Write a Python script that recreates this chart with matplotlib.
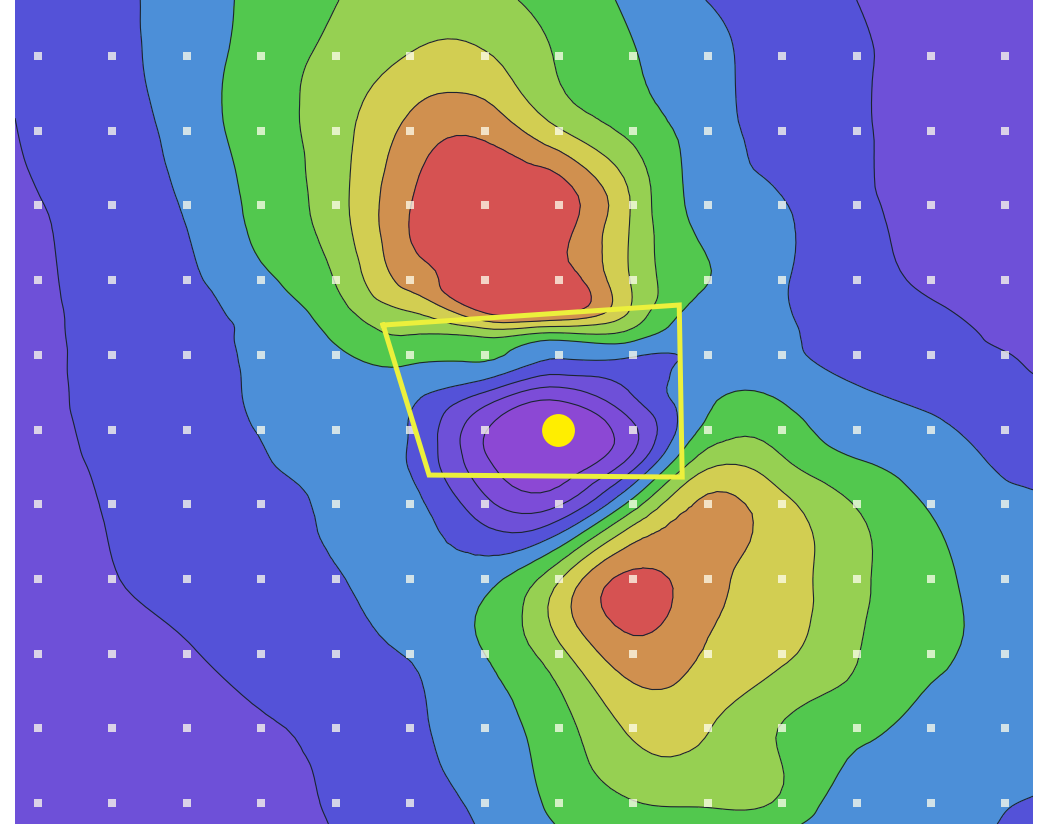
import numpy as np
import matplotlib
matplotlib.use("Agg")
import matplotlib.pyplot as plt
import matplotlib.tri as mtri
from matplotlib.colors import ListedColormap, BoundaryNorm

# grid node positions (in sample-grid units; sample dots sit on integer nodes)
x_nodes = [-0.31, 0, 1, 2, 3, 4, 5, 6, 7, 8, 9, 10, 11, 12, 13, 13.37]
y_nodes = [-0.75, 0, 1, 2, 3, 3.45, 3.75, 4, 4.5, 5, 5.5, 6, 7, 8, 9, 10, 10.28]

# field values, one list per grid row (top to bottom)
row_top = [-0.7, -0.5, -0.2, 0.5, 1.25, 1.97, 2.5, 2.3, 1.6, 0.8, -0.02, -0.5, -1.0, -1.4, -1.6, -1.7]
row_0 = [-0.85, -0.7, -0.25, 0.5, 1.4, 2.3, 3.05, 3.1, 1.9, 1.05, 0.3, -0.45, -0.9, -1.3, -1.6, -1.7]
row_1 = [-1.02, -0.85, -0.4, 0.4, 1.5, 2.6, 4.3, 4.75, 3.1, 1.7, 0.45, -0.4, -0.9, -1.35, -1.6, -1.7]
row_2 = [-1.2, -1.05, -0.52, 0.1, 1.3, 2.6, 4.98, 5.8, 5.6, 2.85, 0.6, 0.05, -0.8, -1.2, -1.5, -1.6]
row_3 = [-1.35, -1.2, -0.55, -0.2, 0.8, 2.05, 4.4, 5.8, 5.7, 2.85, 1.02, 0.1, -0.7, -1.1, -1.4, -1.5]
row_3a = [-1.4, -1.25, -0.56, -0.25, 0.3, 1.55, 2.9, 4.9, 4.95, 2.7, 0.6, 0.1, -0.55, -0.9, -1.2, -1.3]
row_3b = [-1.43, -1.28, -0.57, -0.28, 0.2, 1.15, 1.95, 2.1, 1.5, 1.4, 0.3, 0.15, -0.45, -0.8, -1.1, -1.2]
row_4 = [-1.45, -1.3, -0.58, -0.3, 0.15, 0.8, 1.35, 1.2, 0.15, 0.1, 0.2, 0.2, -0.35, -0.75, -0.98, -1.1]
row_4a = [-1.5, -1.32, -0.62, -0.32, 0.1, 0.4, 0.3, -1.0, -2.4, -0.9, 0.8, 0.8, 0.1, -0.3, -0.8, -0.9]
row_5 = [-1.55, -1.35, -0.7, -0.36, 0.03, 0.35, -0.05, -2.9, -4.0, -2.2, 1.3, 1.5, 0.5, 0.15, -0.4, -0.6]
row_5a = [-1.6, -1.45, -0.8, -0.45, -0.07, 0.3, -0.05, -2.7, -3.6, -1.2, 2.9, 2.3, 1.2, 0.5, -0.1, -0.3]
row_6 = [-1.7, -1.55, -0.9, -0.55, -0.2, 0.2, 0.3, -1.7, -2.1, 1.5, 4.2, 3.3, 1.95, 0.9, 0.2, 0.15]
row_7 = [-1.75, -1.6, -1.05, -0.6, -0.3, -0.05, 0.3, 0.65, 2.9, 5.25, 4.35, 3.5, 2.2, 1.3, 0.5, 0.4]
row_8 = [-1.8, -1.7, -1.5, -1.1, -0.55, -0.2, 0.05, 1.0, 2.7, 4.6, 3.9, 3.2, 2.05, 1.25, 0.6, 0.5]
row_9 = [-1.85, -1.8, -1.65, -1.4, -1.1, -0.75, -0.2, 0.55, 1.6, 3.2, 3.05, 1.95, 1.3, 0.6, 0.4, 0.3]
row_10 = [-1.9, -1.85, -1.75, -1.6, -1.3, -0.9, -0.35, 0.2, 1.25, 1.95, 2.1, 1.85, 0.3, 0.3, 0.05, -0.05]
row_bottom = [-1.92, -1.88, -1.8, -1.65, -1.4, -0.95, -0.45, 0.1, 1.05, 1.5, 1.6, 1.3, 0.15, 0.2, -0.05, -0.35]

levels = [-10, -3, -2, -1, 0, 1, 2, 3, 4, 5, 10]
band_colors = ["#8C48D4", "#7C4CD8", "#6E50D8", "#5452D8", "#4C8FD8",
               "#52C84E", "#96D052", "#D2CE52", "#D0904F", "#D65252"]

# sample stations (dots) and the highlighted target
station_cols = list(range(14))
station_rows = list(range(11))
box_x = [4.637, 8.616, 8.656, 5.255, 4.637]
box_y = [3.601, 3.333, 5.636, 5.609, 3.601]
target_x = [6.99]
target_y = [5.006]

Z = np.array([row_top, row_0, row_1, row_2, row_3, row_3a, row_3b, row_4, row_4a,
              row_5, row_5a, row_6, row_7, row_8, row_9, row_10, row_bottom])
X, Y = np.meshgrid(np.array(x_nodes), np.array(y_nodes))

# smooth contouring of the read values with matplotlib's triangulation refiner
tri = mtri.Triangulation(X.ravel(), Y.ravel())
refiner = mtri.UniformTriRefiner(tri)
interp = mtri.CubicTriInterpolator(tri, Z.ravel(), kind="min_E")
tri_f, z_f = refiner.refine_field(Z.ravel(), triinterpolator=interp, subdiv=3)

fig = plt.figure(figsize=(10.51, 8.25), dpi=100)
ax = fig.add_axes([15 / 1051, 1 / 825, 1018 / 1051, 824 / 825])
cmap = ListedColormap(band_colors)
norm = BoundaryNorm(levels, cmap.N)
ax.tricontourf(tri_f, z_f, levels=levels, cmap=cmap, norm=norm)
ax.tricontour(tri_f, z_f, levels=levels[1:-1], colors="#1c2430",
              linewidths=0.8, linestyles="solid")

sx, sy = np.meshgrid(station_cols, station_rows)
ax.scatter(sx.ravel(), sy.ravel(), marker="s", s=28, c="#FFFFEE", alpha=0.75,
           linewidths=0, zorder=3)
ax.plot(box_x, box_y, color="#ECF03C", lw=3.6, solid_joinstyle="miter", zorder=4)
ax.scatter(target_x, target_y, s=560, c="#FFEE00", linewidths=0, zorder=5)

ax.set_xlim(-0.31, 13.37)
ax.set_ylim(10.28, -0.75)
ax.axis("off")
fig.savefig("out.png", dpi=100)
